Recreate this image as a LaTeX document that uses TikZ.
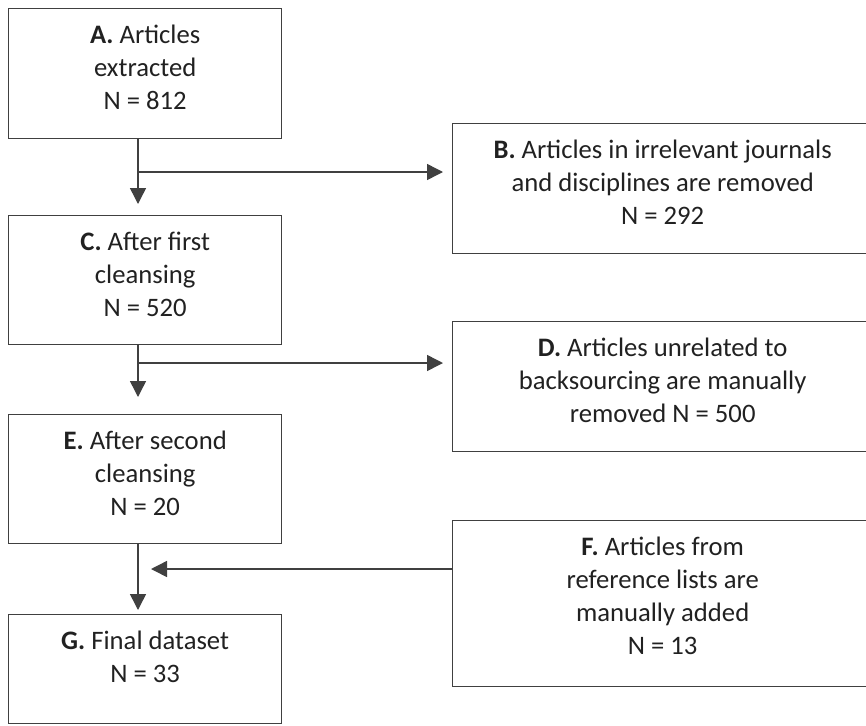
\documentclass[tikz,border=0pt]{standalone}
\usepackage{fontspec}
\setmainfont{Carlito}
\definecolor{linegray}{rgb}{0.25,0.25,0.25}
\definecolor{textgray}{rgb}{0.13,0.13,0.13}
\usetikzlibrary{arrows.meta,positioning}

\begin{document}
\begin{tikzpicture}[x=0.75pt,y=-0.75pt,
    stagebox/.style={draw=linegray, line width=1pt, rectangle, anchor=north west, inner sep=0pt},
    stagetext/.style={align=center, anchor=north, text=textgray, inner sep=0pt,
        font=\fontsize{20}{24.75}\selectfont, execute at begin node=\strut},
    flowarrow/.style={draw=linegray, line width=1.1pt, -{Triangle[length=12pt,width=12pt]}}]
    \useasboundingbox (0,0) rectangle (866,725);
    % left column
    \node[stagebox, minimum width=204.75pt, minimum height=97.5pt] (A) at (8,8) {};
    \node[stagebox, minimum width=204.75pt, minimum height=96.75pt] (C) at (8,215) {};
    \node[stagebox, minimum width=204.75pt, minimum height=96.75pt] (E) at (8,414) {};
    \node[stagebox, minimum width=204.75pt, minimum height=81.75pt] (G) at (8,614) {};
    % right column
    \node[stagebox, minimum width=315pt, minimum height=97.5pt] (B) at (452,123) {};
    \node[stagebox, minimum width=315pt, minimum height=97.5pt] (D) at (452,321) {};
    \node[stagebox, minimum width=315pt, minimum height=124.5pt] (F) at (452,520) {};
    % texts
    \node[stagetext] (Atext) at ([yshift=-12.5pt]A.north) {\textbf{A.} Articles\\extracted\\N = 812};
    \node[stagetext] (Btext) at ([yshift=-12.5pt]B.north) {\textbf{B.} Articles in irrelevant journals\\and disciplines are removed\\N = 292};
    \node[stagetext] (Ctext) at ([yshift=-12.5pt]C.north) {\textbf{C.} After first\\cleansing\\N = 520};
    \node[stagetext] (Dtext) at ([yshift=-12.5pt]D.north) {\textbf{D.} Articles unrelated to\\backsourcing are manually\\removed N = 500};
    \node[stagetext] (Etext) at ([yshift=-12.5pt]E.north) {\textbf{E.} After second\\cleansing\\N = 20};
    \node[stagetext] (Ftext) at ([yshift=-12.5pt]F.north) {\textbf{F.} Articles from\\reference lists are\\manually added\\N = 13};
    \node[stagetext] (Gtext) at ([yshift=-12.5pt]G.north) {\textbf{G.} Final dataset\\N = 33};
    % junctions
    \coordinate (stem) at (138,0);
    \coordinate (jAB) at (138,172);
    \coordinate (jCD) at (138,363);
    \coordinate (jFG) at (151,569);
    % arrows
    \draw[flowarrow, shorten >=8.25pt] (A.south -| stem) -- (C.north -| stem);
    \draw[flowarrow, shorten >=6.75pt] (jAB) -- (jAB -| B.west);
    \draw[flowarrow, shorten >=12.75pt] (C.south -| stem) -- (E.north -| stem);
    \draw[flowarrow, shorten >=6.75pt] (jCD) -- (jCD -| D.west);
    \draw[flowarrow, shorten >=3pt] (E.south -| stem) -- (G.north -| stem);
    \draw[flowarrow] (jFG -| F.west) -- (jFG);
\end{tikzpicture}
\end{document}
